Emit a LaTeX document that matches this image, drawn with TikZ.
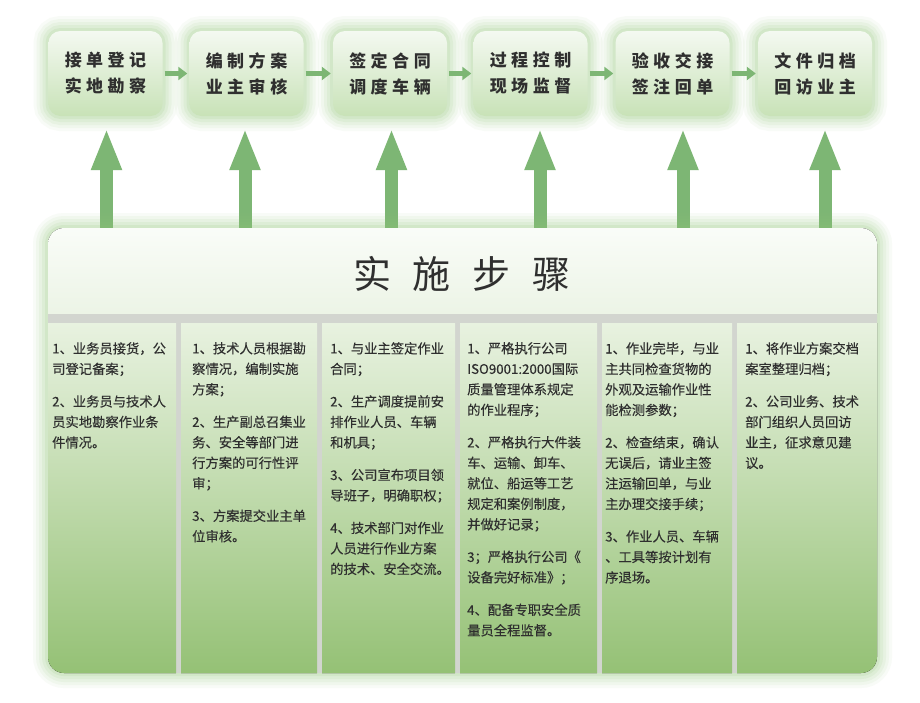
\documentclass[tikz,border=0pt]{standalone}
\usepackage{fontspec}
\setmainfont{Noto Sans CJK SC}
\newfontfamily\colfont[FakeBold=0.25]{Noto Sans CJK SC}
\usetikzlibrary{arrows.meta}
\definecolor{arrowgreen}{HTML}{7DB674}
\definecolor{glowgreen}{HTML}{92C677}
\definecolor{boxtop}{HTML}{F4F9F1}
\definecolor{boxbot}{HTML}{C8E2B7}
\definecolor{coltop}{HTML}{E8F2E0}
\definecolor{colbot}{HTML}{93C073}
\definecolor{sepgray}{HTML}{D2D5CF}
\definecolor{txt}{HTML}{2F2F2F}
\definecolor{titletop}{HTML}{FBFDFA}
\definecolor{titlebot}{HTML}{ECF4E6}
\newcommand\kgap{\hspace{4.5pt}}
\newcommand\tgap{\hspace{22pt}}
\begin{document}
\begin{tikzpicture}[x=1pt,y=-1pt,
  glow/.style={preaction={draw=glowgreen,line width=30pt,opacity=0.06},
               preaction={draw=glowgreen,line width=24pt,opacity=0.07},
               preaction={draw=glowgreen,line width=18pt,opacity=0.09},
               preaction={draw=glowgreen,line width=12pt,opacity=0.11},
               preaction={draw=glowgreen,line width=6pt,opacity=0.14}},
  stepbox/.style={glow,rounded corners=12pt,minimum width=114pt,minimum height=85pt,
    inner sep=0pt,top color=boxtop,bottom color=boxbot,align=center,
    font=\fontsize{17}{26}\selectfont\bfseries,text=txt},
  panelbox/.style={glow,rounded corners=16pt,minimum width=829pt,minimum height=445pt,
    inner sep=0pt,fill=sepgray},
  smallarrow/.style={draw=arrowgreen,line width=5pt,-{Triangle[width=13pt,length=9pt]},
    shorten <=2pt,shorten >=2pt},
  bigarrow/.style={draw=arrowgreen,line width=13pt,-{Triangle[width=28pt,length=42pt]},
    shorten >=12pt},
  coltext/.style={anchor=north west,inner sep=0pt,align=left,text=txt,
    font=\colfont\fontsize{13.3}{20.5}\selectfont},
  colfill/.style={top color=coltop,bottom color=colbot}]
\useasboundingbox[fill=white] (0,0) rectangle (920,702);

% base points of the big arrows on the panel top
\coordinate (a1) at (106.5,228);
\coordinate (a2) at (245,228);
\coordinate (a3) at (391.5,228);
\coordinate (a4) at (540,228);
\coordinate (a5) at (683,228);
\coordinate (a6) at (825,228);

% top step boxes
\node[stepbox] (s1) at (105.5,73.5) {接\kgap 单\kgap 登\kgap 记\\实\kgap 地\kgap 勘\kgap 察};
\node[stepbox] (s2) at (246.5,73.5) {编\kgap 制\kgap 方\kgap 案\\业\kgap 主\kgap 审\kgap 核};
\node[stepbox] (s3) at (390,73.5) {签\kgap 定\kgap 合\kgap 同\\调\kgap 度\kgap 车\kgap 辆};
\node[stepbox] (s4) at (530.5,73.5) {过\kgap 程\kgap 控\kgap 制\\现\kgap 场\kgap 监\kgap 督};
\node[stepbox] (s5) at (672.5,73.5) {验\kgap 收\kgap 交\kgap 接\\签\kgap 注\kgap 回\kgap 单};
\node[stepbox] (s6) at (815,73.5) {文\kgap 件\kgap 归\kgap 档\\回\kgap 访\kgap 业\kgap 主};

\draw[smallarrow] (s1.east) -- (s2.west);
\draw[smallarrow] (s2.east) -- (s3.west);
\draw[smallarrow] (s3.east) -- (s4.west);
\draw[smallarrow] (s4.east) -- (s5.west);
\draw[smallarrow] (s5.east) -- (s6.west);

\draw[bigarrow] (a1) -- (a1 |- s1.south);
\draw[bigarrow] (a2) -- (a2 |- s2.south);
\draw[bigarrow] (a3) -- (a3 |- s3.south);
\draw[bigarrow] (a4) -- (a4 |- s4.south);
\draw[bigarrow] (a5) -- (a5 |- s5.south);
\draw[bigarrow] (a6) -- (a6 |- s6.south);

% panel
\node[panelbox] (panel) at (462.5,450.5) {};
\begin{scope}
  \clip[rounded corners=16pt] (48,228) rectangle (877,673);
  \fill[top color=titletop,bottom color=titlebot] (40,220) rectangle (885,313);
  \fill[colfill] (40,323) rectangle (176,680);
  \fill[colfill] (181,323) rectangle (317,680);
  \fill[colfill] (322,323) rectangle (455,680);
  \fill[colfill] (460,323) rectangle (597,680);
  \fill[colfill] (602,323) rectangle (732,680);
  \fill[colfill] (737,323) rectangle (885,680);
\end{scope}

\node[text=txt,font=\fontsize{38}{40}\selectfont] (title) at (462,274) {实\tgap 施\tgap 步\tgap 骤};

\node[coltext] (c1) at (52,342) {1、业务员接货，公\\司登记备案；\\[12pt]2、业务员与技术人\\员实地勘察作业条\\件情况。};
\node[coltext] (c2) at (192,342) {1、技术人员根据勘\\察情况，编制实施\\方案；\\[12pt]2、生产副总召集业\\务、安全等部门进\\行方案的可行性评\\审；\\[12pt]3、方案提交业主单\\位审核。};
\node[coltext] (c3) at (330,342) {1、与业主签定作业\\合同；\\[12pt]2、生产调度提前安\\排作业人员、车辆\\和机具；\\[12pt]3、公司宣布项目领\\导班子，明确职权；\\[12pt]4、技术部门对作业\\人员进行作业方案\\的技术、安全交流。};
\node[coltext] (c4) at (467,342) {1、严格执行公司\\ISO9001:2000国际\\质量管理体系规定\\的作业程序；\\[12pt]2、严格执行大件装\\车、运输、卸车、\\就位、船运等工艺\\规定和案例制度，\\并做好记录；\\[12pt]3；严格执行公司《\\设备完好标准》；\\[12pt]4、配备专职安全质\\量员全程监督。};
\node[coltext] (c5) at (605,342) {1、作业完毕，与业\\主共同检查货物的\\外观及运输作业性\\能检测参数；\\[12pt]2、检查结束，确认\\无误后，请业主签\\注运输回单，与业\\主办理交接手续；\\[12pt]3、作业人员、车辆\\、工具等按计划有\\序退场。};
\node[coltext] (c6) at (745,342) {1、将作业方案交档\\案室整理归档；\\[12pt]2、公司业务、技术\\部门组织人员回访\\业主，征求意见建\\议。};
\end{tikzpicture}
\end{document}
